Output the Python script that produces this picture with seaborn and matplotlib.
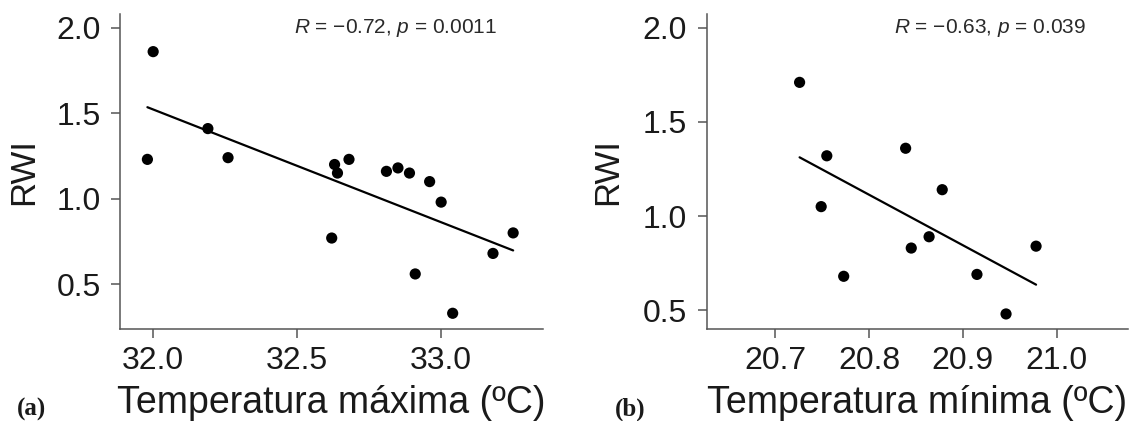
import numpy as np
import pandas as pd
import matplotlib
matplotlib.use('Agg')
import matplotlib.pyplot as plt
import seaborn as sns

# --- data ---
tmax = [31.98, 32.00, 32.19, 32.26, 32.62, 32.63, 32.64, 32.68, 32.81,
        32.85, 32.89, 32.91, 32.96, 33.00, 33.04, 33.18, 33.25]
rwi_a = [1.23, 1.86, 1.41, 1.24, 0.77, 1.20, 1.15, 1.23, 1.16,
         1.18, 1.15, 0.56, 1.10, 0.98, 0.33, 0.68, 0.80]

tmin = [20.726, 20.755, 20.749, 20.773, 20.839, 20.845, 20.864, 20.878,
        20.915, 20.946, 20.978]
rwi_b = [1.71, 1.32, 1.05, 0.68, 1.36, 0.83, 0.89, 1.14, 0.69, 0.48, 0.84]

xticks_a = [32.0, 32.5, 33.0]
xticks_b = [20.7, 20.8, 20.9, 21.0]
yticks = [0.5, 1.0, 1.5, 2.0]

label_a = "$R$ = \u22120.72, $p$ = 0.0011"
label_b = "$R$ = \u22120.63, $p$ = 0.039"

df_a = pd.DataFrame({'x': tmax, 'y': rwi_a})
df_b = pd.DataFrame({'x': tmin, 'y': rwi_b})

sns.set_style('white')
plt.rcParams['font.family'] = ['Liberation Sans', 'DejaVu Sans']
plt.rcParams['mathtext.fontset'] = 'custom'
plt.rcParams['mathtext.rm'] = 'Liberation Sans'
plt.rcParams['mathtext.it'] = 'Liberation Sans:italic'

fig = plt.figure(figsize=(11.4, 4.21), dpi=100)
ax_a = fig.add_axes([0.1053, 0.2185, 0.3711, 0.7482])
ax_b = fig.add_axes([0.6199, 0.2185, 0.3696, 0.7482])

spine_col = '#555555'
text_col = '#1a1a1a'


def panel(ax, df, xlabel, xticks, xlim, ylim, note, note_x):
    sns.regplot(data=df, x='x', y='y', ax=ax, scatter=False, ci=None,
                truncate=True, line_kws={'color': 'black', 'lw': 1.6})
    sns.scatterplot(data=df, x='x', y='y', ax=ax, color='black', s=65,
                    edgecolor='none', zorder=3)
    ax.set_xlim(*xlim)
    ax.set_ylim(*ylim)
    ax.set_xticks(xticks)
    ax.set_yticks(yticks)
    ax.set_xticklabels([f'{t:.1f}' for t in xticks])
    ax.set_yticklabels([f'{t:.1f}' for t in yticks])
    for s in ['top', 'right']:
        ax.spines[s].set_visible(False)
    for s in ['left', 'bottom']:
        ax.spines[s].set_color(spine_col)
        ax.spines[s].set_linewidth(1.1)
    ax.tick_params(axis='both', direction='out', length=6.5, width=1.1,
                   color=spine_col, labelsize=23, labelcolor=text_col,
                   bottom=True, left=True)
    ax.tick_params(axis='x', pad=6)
    ax.tick_params(axis='y', pad=7.5)
    ax.set_xlabel(xlabel, fontsize=27, color=text_col, va='baseline')
    ax.xaxis.set_label_coords(0.5, -0.267)
    ax.set_ylabel('RWI', fontsize=25, color=text_col, va='center')
    ax.text(note_x, 2.0, note, fontsize=15, color='#2a2a2a',
            ha='left', va='center')


panel(ax_a, df_a, 'Temperatura máxima (ºC)', xticks_a, (31.885, 33.354),
      (0.238, 2.08), label_a, 32.49)
ax_a.yaxis.set_label_coords(-0.229, 0.5)

panel(ax_b, df_b, 'Temperatura mínima (ºC)', xticks_b, (20.627, 21.076),
      (0.40, 2.073), label_b, 20.827)
ax_b.yaxis.set_label_coords(-0.234, 0.5)

fig.text(32 / 1140, 1 - 409 / 421, '(a)', fontsize=18, fontweight='bold',
         family='Liberation Serif', ha='center', va='center', color=text_col)
fig.text(630 / 1140, 1 - 409 / 421, '(b)', fontsize=18, fontweight='bold',
         family='Liberation Serif', ha='center', va='center', color=text_col)

plt.savefig('out.png', dpi=100)
